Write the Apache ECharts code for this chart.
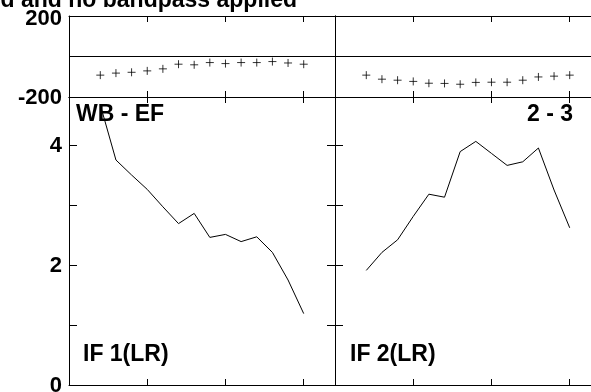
<!DOCTYPE html>
<html>
<head>
<meta charset="utf-8">
<script src="https://cdn.jsdelivr.net/npm/echarts@6/dist/echarts.min.js"></script>
<style>
html,body{margin:0;padding:0;background:#fff;overflow:hidden;}
#chart{width:591px;height:392px;}
</style>
</head>
<body>
<div id="chart"></div>
<script>
// ---- data ----
const sampleX = [2, 3, 4, 5, 6, 7, 8, 9, 10, 11, 12, 13, 14, 15];
const phaseIF1 = [-92, -82, -78, -71, -61, -38, -41, -30, -35, -30, -30, -25, -32, -38];
const phaseIF2 = [-92, -112, -117, -123, -132, -133, -137, -128, -127, -127, -117, -101, -97, -92];
const ampIF1 = [4.67, 3.75, 3.5, 3.26, 2.97, 2.69, 2.86, 2.46, 2.51, 2.39, 2.47, 2.21, 1.75, 1.19];
const ampIF2 = [1.91, 2.21, 2.42, 2.81, 3.18, 3.13, 3.89, 4.06, 3.86, 3.66, 3.72, 3.95, 3.25, 2.62];
const phaseTicks = [-200, 200];
const ampTicks = [0, 2, 4];
const titleText = 'd and no bandpass applied';
const baselineLabel = 'WB - EF';
const pairLabel = '2 - 3';
const ifLabels = ['IF 1(LR)', 'IF 2(LR)'];

const FONT = "'Liberation Sans', Arial, sans-serif";
const chart = echarts.init(document.getElementById('chart'), null, {renderer: 'canvas'});

const leftX = 69, panelW = 266, rightX = 335;
const topY = 16, topH = 81, botY = 97, botH = 288;

const grids = [
  {left: leftX, top: topY, width: panelW, height: topH, outerBoundsMode: 'none', containLabel: false},
  {left: rightX, top: topY, width: panelW, height: topH, outerBoundsMode: 'none', containLabel: false},
  {left: leftX, top: botY, width: panelW, height: botH, outerBoundsMode: 'none', containLabel: false},
  {left: rightX, top: botY, width: panelW, height: botH, outerBoundsMode: 'none', containLabel: false}
];

const lineStyle = {color: '#000', width: 1};
function xAx(gi, pos) {
  return {
    type: 'value', gridIndex: gi, position: pos, min: 0, max: 17, interval: 5,
    axisLine: {show: true, onZero: false, lineStyle: lineStyle},
    axisTick: {show: true, inside: true, length: 6, lineStyle: lineStyle},
    axisLabel: {show: false}, splitLine: {show: false}
  };
}
function yAx(gi, pos, isPhase, showLabels) {
  const ticks = isPhase ? phaseTicks : ampTicks;
  return {
    type: 'value', gridIndex: gi, position: pos,
    min: isPhase ? -200 : 0, max: isPhase ? 200 : 4.8, interval: isPhase ? 200 : 1,
    axisLine: {show: true, onZero: false, lineStyle: lineStyle},
    axisTick: {show: true, inside: true, length: 8, lineStyle: lineStyle},
    axisLabel: {
      show: showLabels, margin: 7, color: '#000', fontFamily: FONT, fontWeight: 'bold', fontSize: 22,
      showMaxLabel: true, showMinLabel: true, hideOverlap: false,
      formatter: v => {
        const r = Math.round(v * 1000) / 1000;
        if (ticks.indexOf(r) < 0) return '';
        return (isPhase && r > 0) ? '{t|' + r + '}' : '{n|' + r + '}';
      },
      rich: {
        t: {fontFamily: FONT, fontWeight: 'bold', fontSize: 22, color: '#000', padding: [6, 0, 0, 0]},
        n: {fontFamily: FONT, fontWeight: 'bold', fontSize: 22, color: '#000', padding: [2, 0, 0, 0]}
      }
    },
    splitLine: {show: isPhase && pos === 'left', lineStyle: lineStyle}
  };
}

const xAxes = [], yAxes = [];
for (let g = 0; g < 4; g++) {
  xAxes.push(xAx(g, 'bottom'));
  xAxes.push(xAx(g, 'top'));
}
yAxes.push(yAx(0, 'left', true, true));   // 0
yAxes.push(yAx(0, 'right', true, false)); // 1
yAxes.push(yAx(1, 'left', true, false));  // 2
yAxes.push(yAx(2, 'left', false, true));  // 3
yAxes.push(yAx(2, 'right', false, false));// 4
yAxes.push(yAx(3, 'left', false, false)); // 5

const plusSym = 'path://M0,4L8,4M4,0L4,8';
const pair = (xs, ys) => xs.map((x, i) => [x, ys[i]]);

const option = {
  animation: false,
  backgroundColor: '#fff',
  grid: grids,
  xAxis: xAxes,
  yAxis: yAxes,
  series: [
    {type: 'scatter', xAxisIndex: 0, yAxisIndex: 0, data: pair(sampleX, phaseIF1),
     symbol: plusSym, symbolSize: 8,
     itemStyle: {color: 'none', borderColor: '#000', borderWidth: 1}},
    {type: 'scatter', xAxisIndex: 2, yAxisIndex: 2, data: pair(sampleX, phaseIF2),
     symbol: plusSym, symbolSize: 8,
     itemStyle: {color: 'none', borderColor: '#000', borderWidth: 1}},
    {type: 'line', xAxisIndex: 4, yAxisIndex: 3, data: pair(sampleX, ampIF1),
     showSymbol: false, lineStyle: {color: '#000', width: 1}},
    {type: 'line', xAxisIndex: 6, yAxisIndex: 5, data: pair(sampleX, ampIF2),
     showSymbol: false, lineStyle: {color: '#000', width: 1}}
  ],
  graphic: [
    {type: 'text', x: 297, y: 0.5, z: 10,
     style: {text: titleText, fill: '#000', font: 'bold 23px ' + FONT, textAlign: 'right', textVerticalAlign: 'middle'}},
    {type: 'text', x: 76, y: 115, z: 10,
     style: {text: baselineLabel, fill: '#000', font: 'bold 23px ' + FONT, textAlign: 'left', textVerticalAlign: 'middle'}},
    {type: 'text', x: 573, y: 115, z: 10,
     style: {text: pairLabel, fill: '#000', font: 'bold 23px ' + FONT, textAlign: 'right', textVerticalAlign: 'middle'}},
    {type: 'text', x: 83, y: 355, z: 10,
     style: {text: ifLabels[0], fill: '#000', font: 'bold 23px ' + FONT, textAlign: 'left', textVerticalAlign: 'middle'}},
    {type: 'text', x: 350, y: 355, z: 10,
     style: {text: ifLabels[1], fill: '#000', font: 'bold 23px ' + FONT, textAlign: 'left', textVerticalAlign: 'middle'}}
  ]
};
chart.setOption(option);
</script>
</body>
</html>
